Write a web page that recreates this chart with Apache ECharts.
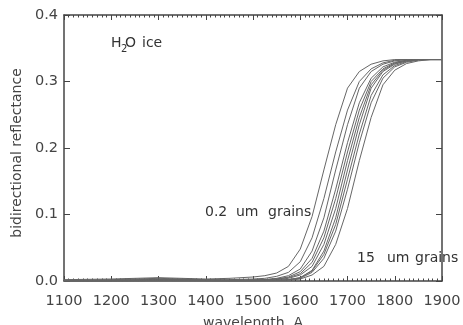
<!DOCTYPE html>
<html>
<head>
<meta charset="utf-8">
<script src="https://cdn.jsdelivr.net/npm/echarts@6/dist/echarts.min.js"></script>
<style>
  html, body { margin: 0; padding: 0; background: #fff; }
  #chart { width: 463px; height: 325px; }
</style>
</head>
<body>
<div id="chart"></div>
<script>
// Wavelength grid (Angstrom)
const wavelength = [1100,1200,1300,1400,1450,1500,1525,1550,1575,1600,1625,1650,1675,1700,1725,1750,1775,1800,1825,1850,1875,1900];

// Bidirectional reflectance of H2O ice, one curve per grain size (0.2 um ... 15 um)
const grain1  = [0.002,0.003,0.005,0.003,0.004,0.006,0.008,0.012,0.022,0.048,0.097,0.167,0.235,0.290,0.315,0.326,0.331,0.333,0.333,0.333,0.333,0.333];
const grain2  = [0.001,0.002,0.004,0.002,0.002,0.003,0.004,0.007,0.013,0.029,0.065,0.124,0.194,0.257,0.300,0.319,0.328,0.332,0.333,0.333,0.333,0.333];
const grain3  = [0.001,0.001,0.003,0.002,0.001,0.002,0.002,0.004,0.008,0.018,0.045,0.095,0.167,0.235,0.290,0.315,0.326,0.331,0.333,0.333,0.333,0.333];
const grain4  = [0.001,0.001,0.002,0.001,0.001,0.001,0.002,0.003,0.006,0.014,0.034,0.075,0.138,0.208,0.268,0.305,0.322,0.329,0.332,0.333,0.333,0.333];
const grain5  = [0.000,0.001,0.002,0.001,0.001,0.001,0.002,0.003,0.005,0.011,0.028,0.065,0.124,0.194,0.257,0.300,0.319,0.328,0.332,0.333,0.333,0.333];
const grain6  = [0.000,0.001,0.002,0.001,0.001,0.001,0.001,0.002,0.004,0.009,0.022,0.055,0.109,0.181,0.246,0.295,0.317,0.327,0.331,0.333,0.333,0.333];
const grain7  = [0.000,0.000,0.001,0.001,0.001,0.001,0.001,0.001,0.002,0.005,0.016,0.045,0.095,0.167,0.235,0.290,0.315,0.326,0.331,0.333,0.333,0.333];
const grain8  = [0.000,0.000,0.001,0.001,0.000,0.001,0.001,0.001,0.002,0.005,0.015,0.040,0.085,0.153,0.221,0.279,0.310,0.324,0.330,0.333,0.333,0.333];
const grain9  = [0.000,0.000,0.001,0.000,0.000,0.000,0.001,0.001,0.002,0.004,0.013,0.034,0.075,0.138,0.208,0.268,0.305,0.322,0.329,0.332,0.333,0.333];
const grain10 = [0.000,0.000,0.000,0.000,0.000,0.000,0.000,0.001,0.001,0.003,0.009,0.022,0.055,0.109,0.181,0.246,0.295,0.317,0.327,0.331,0.333,0.333];

const curves = [grain1, grain2, grain3, grain4, grain5, grain6, grain7, grain8, grain9, grain10];

const xTicks = { min: 1100, max: 1900, step: 100 };
const yTicks = { min: 0, max: 0.4, step: 0.1 };

const FONT = 'DejaVu Sans';
const AXIS_COLOR = '#444';
const TEXT_COLOR = '#333';

const chart = echarts.init(document.getElementById('chart'), null, { renderer: 'canvas' });

function xAxisCfg(pos, labels) {
  return {
    type: 'value', position: pos,
    min: xTicks.min, max: xTicks.max, interval: xTicks.step,
    axisLine: { show: true, onZero: false, lineStyle: { color: AXIS_COLOR, width: 1.5 } },
    axisTick: { show: true, inside: true, length: 5, lineStyle: { color: AXIS_COLOR, width: 1 } },
    minorTick: { show: true, splitNumber: 10, length: 2.5, lineStyle: { color: AXIS_COLOR, width: 1 } },
    splitLine: { show: false },
    axisLabel: { show: labels, margin: 13, color: '#444', fontFamily: FONT, fontSize: 14.5,
                 formatter: v => String(v) },
    name: labels ? 'wavelength, A' : '',
    nameLocation: 'middle', nameGap: 35,
    nameTextStyle: { color: '#444', fontFamily: FONT, fontSize: 14 }
  };
}

function yAxisCfg(pos, labels) {
  return {
    type: 'value', position: pos,
    min: yTicks.min, max: yTicks.max, interval: yTicks.step,
    axisLine: { show: true, onZero: false, lineStyle: { color: AXIS_COLOR, width: 1.5 } },
    axisTick: { show: true, inside: true, length: 6, lineStyle: { color: AXIS_COLOR, width: 1 } },
    splitLine: { show: false },
    axisLabel: { show: labels, margin: 6, color: '#444', fontFamily: FONT, fontSize: 14.5,
                 formatter: v => v.toFixed(1) },
    name: labels ? 'bidirectional reflectance' : '',
    nameLocation: 'middle', nameGap: 40,
    nameTextStyle: { color: '#444', fontFamily: FONT, fontSize: 14, padding: [0, 10, 0, 0] }
  };
}

function word(text, x, y, size) {
  return {
    type: 'text', x: x, y: y,
    style: { text: text, fill: TEXT_COLOR, font: size + 'px "' + FONT + '"', verticalAlign: 'middle' }
  };
}

const option = {
  animation: false,
  backgroundColor: '#fff',
  grid: { left: 64, right: 21, top: 15, bottom: 44, containLabel: false, outerBoundsMode: 'none' },
  xAxis: [xAxisCfg('bottom', true), xAxisCfg('top', false)],
  yAxis: [yAxisCfg('left', true), yAxisCfg('right', false)],
  series: curves.map(vals => ({
    type: 'line',
    xAxisIndex: 0, yAxisIndex: 0,
    showSymbol: false,
    silent: true,
    lineStyle: { color: '#666', width: 1 },
    data: wavelength.map((w, i) => [w, vals[i]])
  })),
  graphic: [
    word('H', 111, 43.5, 14),
    word('2', 121, 49, 10),
    word('O', 125, 43.5, 14),
    word('ice', 142, 43.5, 14),
    word('0.2', 205, 212.5, 14),
    word('um', 236, 212.5, 14),
    word('grains', 268, 212.5, 14),
    word('15', 357, 258, 14),
    word('um', 387, 258, 14),
    word('grains', 415, 258, 14)
  ]
};

chart.setOption(option);
</script>
</body>
</html>
